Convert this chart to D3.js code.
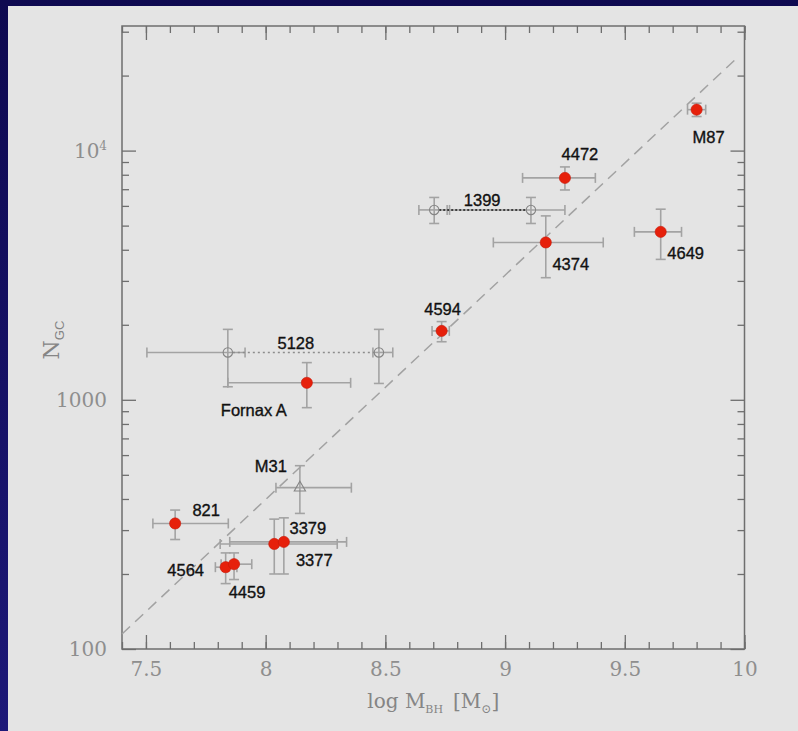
<!DOCTYPE html>
<html>
<head>
<meta charset="utf-8">
<script src="https://cdn.jsdelivr.net/npm/d3@7"></script>
<style>
  html, body { margin: 0; padding: 0; background: #100a55; }
  svg { display: block; }
</style>
</head>
<body>
<svg id="chart" width="798" height="731"></svg>
<script>
// Globular cluster counts versus central black hole mass.
// Filled points: measured galaxies. Open points: alternative estimates / M31.

const galaxyNames = ["M87", "4472", "4374", "4649", "4594", "Fornax A", "821", "3377", "3379", "4564", "4459"];
const galaxyLogM  = [9.80, 9.25, 9.17, 9.65, 8.735, 8.172, 7.622, 8.036, 8.076, 7.833, 7.868];
const galaxyLogMLo = [9.762, 9.073, 8.951, 9.540, 8.695, 7.842, 7.529, 7.810, 7.850, 7.790, 7.814];
const galaxyLogMHi = [9.838, 9.377, 9.410, 9.737, 8.767, 8.355, 7.844, 8.299, 8.338, 7.880, 7.942];
const galaxyNgc   = [14600, 7770, 4280, 4720, 1890, 1170, 319, 264, 269, 213, 219];
const galaxyNgcLo = [13700, 6950, 3090, 3660, 1710, 930, 275, 200, 200, 183, 190];
const galaxyNgcHi = [15500, 8600, 5470, 5820, 2060, 1410, 361, 332, 336, 243, 243];

// Paired alternative estimates joined by a dotted line
const pairNames  = ["5128", "5128", "1399", "1399"];
const pairGroup  = ["5128", "5128", "1399", "1399"];
const pairLogM   = [7.842, 8.473, 8.704, 9.108];
const pairLogMLo = [7.504, 8.448, 8.640, 8.758];
const pairLogMHi = [7.914, 8.531, 8.768, 9.250];
const pairNgc    = [1549, 1549, 5780, 5780];
const pairNgcLo  = [1128, 1163, 5100, 5100];
const pairNgcHi  = [1917, 1917, 6486, 6486];

// M31 (open triangle)
const m31LogM = 8.143, m31LogMLo = 8.043, m31LogMHi = 8.358;
const m31Ngc = 444, m31NgcLo = 350, m31NgcHi = 544;

// Fitted relation (dashed line): log N = a + b (log M - 7.4)
const fitLogM = [7.4, 9.97];
const fitA = 2.06, fitB = 0.90;

// Axis ticks
const xMajorTicks = [7.5, 8, 8.5, 9, 9.5, 10];
const xMinorTicks = d3.range(74, 101).map(d => d / 10);
const yMajorTicks = [100, 1000, 10000];
const yMinorTicks = [200, 300, 400, 500, 600, 700, 800, 900,
                     2000, 3000, 4000, 5000, 6000, 7000, 8000, 9000, 20000, 30000];

// ---------------------------------------------------------------
const svg = d3.select("#chart");
const W = 798, H = 731;

const defs = svg.append("defs");
const bg = defs.append("linearGradient").attr("id", "navy")
  .attr("x1", 0).attr("y1", 0).attr("x2", 0).attr("y2", 1);
bg.append("stop").attr("offset", "0%").attr("stop-color", "#0e0950");
bg.append("stop").attr("offset", "100%").attr("stop-color", "#1d1878");

svg.append("rect").attr("width", W).attr("height", H).attr("fill", "url(#navy)");
svg.append("rect").attr("x", 8).attr("y", 6).attr("width", W - 8).attr("height", H - 6)
  .attr("fill", "#e4e4e4");

const plotLeft = 122, plotRight = 744.5, plotTop = 26, plotBottom = 649;
const x = d3.scaleLinear().domain([7.4, 10]).range([plotLeft, plotRight]);
const y = d3.scaleLog().domain([100, Math.pow(10, 4.5)]).range([plotBottom, plotTop]);

const frameColor = "#6e6e6e";
const tickFont = "'DejaVu Serif', 'Liberation Serif', serif";

function styleAxis(g) {
  g.select(".domain").remove();
  g.selectAll(".tick line").attr("stroke", frameColor).attr("stroke-width", 1.3);
  g.selectAll(".tick text").attr("fill", "#8e8e8e")
    .attr("font-family", tickFont).attr("font-size", 20);
}

// Minor ticks
svg.append("g").attr("transform", `translate(0,${plotBottom})`)
  .call(d3.axisBottom(x).tickValues(xMinorTicks).tickSize(-7).tickFormat(""))
  .call(styleAxis);
svg.append("g").attr("transform", `translate(0,${plotTop})`)
  .call(d3.axisTop(x).tickValues(xMinorTicks).tickSize(-7).tickFormat(""))
  .call(styleAxis);
svg.append("g").attr("transform", `translate(${plotLeft},0)`)
  .call(d3.axisLeft(y).tickValues(yMinorTicks).tickSize(-7).tickFormat(""))
  .call(styleAxis);
svg.append("g").attr("transform", `translate(${plotRight},0)`)
  .call(d3.axisRight(y).tickValues(yMinorTicks).tickSize(-7).tickFormat(""))
  .call(styleAxis);

// Major ticks with labels
svg.append("g").attr("transform", `translate(0,${plotBottom})`)
  .call(d3.axisBottom(x).tickValues(xMajorTicks).tickSize(-14).tickPadding(13)
    .tickFormat(d => String(d)))
  .call(styleAxis);
svg.append("g").attr("transform", `translate(0,${plotTop})`)
  .call(d3.axisTop(x).tickValues(xMajorTicks).tickSize(-14).tickFormat(""))
  .call(styleAxis);
const yAxisG = svg.append("g").attr("transform", `translate(${plotLeft},0)`)
  .call(d3.axisLeft(y).tickValues(yMajorTicks).tickSize(-14).tickPadding(15)
    .tickFormat(d => d === 10000 ? "10" : String(d)))
  .call(styleAxis);
yAxisG.selectAll(".tick text").filter(d => d === 10000)
  .append("tspan").attr("font-size", 12).attr("dy", "-0.6em").text("4");
svg.append("g").attr("transform", `translate(${plotRight},0)`)
  .call(d3.axisRight(y).tickValues(yMajorTicks).tickSize(-14).tickFormat(""))
  .call(styleAxis);

// Frame
svg.append("rect").attr("x", plotLeft).attr("y", plotTop)
  .attr("width", plotRight - plotLeft).attr("height", plotBottom - plotTop)
  .attr("fill", "none").attr("stroke", frameColor).attr("stroke-width", 1.5);

// Axis titles
const xTitle = svg.append("text").attr("x", (plotLeft + plotRight) / 2).attr("y", 708)
  .attr("text-anchor", "middle").attr("fill", "#858585")
  .attr("font-family", tickFont).attr("font-size", 20);
xTitle.append("tspan").text("log M");
xTitle.append("tspan").attr("font-size", 11).attr("dy", 5).text("BH");
xTitle.append("tspan").attr("dy", -5).text("\u2002[M");
xTitle.append("tspan").attr("font-size", 12).attr("dy", 5).text("\u2299");
xTitle.append("tspan").attr("dy", -5).text("]");

const yTitle = svg.append("text").attr("transform", "translate(59,340) rotate(-90)")
  .attr("text-anchor", "middle").attr("fill", "#858585")
  .attr("font-family", tickFont).attr("font-size", 22);
yTitle.append("tspan").text("N");
yTitle.append("tspan").attr("font-family", "'Liberation Sans', Arial, sans-serif")
  .attr("font-size", 13).attr("dy", 5).text("GC");

// Dashed fit line
svg.append("line")
  .attr("x1", x(fitLogM[0])).attr("y1", y(Math.pow(10, fitA + fitB * (fitLogM[0] - 7.4))))
  .attr("x2", x(fitLogM[1])).attr("y2", y(Math.pow(10, fitA + fitB * (fitLogM[1] - 7.4))))
  .attr("stroke", "#a2a2a2").attr("stroke-width", 1.5).attr("stroke-dasharray", "11,7");

// Error bars
const errColor = "#a3a3a3";
const cap = 5;
function errorBars(g, mx, mLo, mHi, n, nLo, nHi) {
  const px = x(mx), py = y(n);
  const segs = [
    [x(mLo), py, x(mHi), py],
    [x(mLo), py - cap, x(mLo), py + cap],
    [x(mHi), py - cap, x(mHi), py + cap],
    [px, y(nLo), px, y(nHi)],
    [px - cap, y(nLo), px + cap, y(nLo)],
    [px - cap, y(nHi), px + cap, y(nHi)]
  ];
  segs.forEach(s => g.append("line")
    .attr("x1", s[0]).attr("y1", s[1]).attr("x2", s[2]).attr("y2", s[3])
    .attr("stroke", errColor).attr("stroke-width", 1.6));
}

const errG = svg.append("g");
galaxyNames.forEach((_, i) => errorBars(errG, galaxyLogM[i], galaxyLogMLo[i], galaxyLogMHi[i],
  galaxyNgc[i], galaxyNgcLo[i], galaxyNgcHi[i]));
pairNames.forEach((_, i) => errorBars(errG, pairLogM[i], pairLogMLo[i], pairLogMHi[i],
  pairNgc[i], pairNgcLo[i], pairNgcHi[i]));
errorBars(errG, m31LogM, m31LogMLo, m31LogMHi, m31Ngc, m31NgcLo, m31NgcHi);

// Dotted connectors between paired estimates
const pairStyle = { "5128": ["#8c8c8c", "2,3"], "1399": ["#1a1a1a", "2,2"] };
["5128", "1399"].forEach(gname => {
  const idx = pairGroup.map((g, i) => g === gname ? i : -1).filter(i => i >= 0);
  const a = idx[0], b = idx[1];
  svg.append("line")
    .attr("x1", x(pairLogM[a]) + 5).attr("y1", y(pairNgc[a]))
    .attr("x2", x(pairLogM[b]) - 5).attr("y2", y(pairNgc[b]))
    .attr("stroke", pairStyle[gname][0]).attr("stroke-width", 1.6)
    .attr("stroke-dasharray", pairStyle[gname][1]);
});

// Open circles
svg.append("g").selectAll("circle").data(pairNames.map((_, i) => i)).join("circle")
  .attr("cx", i => x(pairLogM[i])).attr("cy", i => y(pairNgc[i])).attr("r", 4.7)
  .attr("fill", "none").attr("stroke", "#858585").attr("stroke-width", 1.1);

// M31 open triangle
svg.append("path")
  .attr("transform", `translate(${x(m31LogM)},${y(m31Ngc)})`)
  .attr("d", d3.symbol().type(d3.symbolTriangle).size(55)())
  .attr("fill", "none").attr("stroke", "#858585").attr("stroke-width", 1.1);

// Filled red points
svg.append("g").selectAll("circle").data(galaxyNames.map((_, i) => i)).join("circle")
  .attr("cx", i => x(galaxyLogM[i])).attr("cy", i => y(galaxyNgc[i])).attr("r", 5.6)
  .attr("fill", "#e6200b").attr("stroke", "#c8190a").attr("stroke-width", 0.6);

// Name labels, offset from their points (pixels)
const labelFont = "'Liberation Sans', Arial, Helvetica, sans-serif";
const labelOffsets = {
  "M87": [12, 33], "4472": [15, -18], "4374": [25, 28], "4649": [25, 27],
  "4594": [1, -16], "Fornax A": [-53, 33], "821": [31, -7], "3377": [40, 22],
  "3379": [24, -8], "4564": [-40, 9], "4459": [13, 34]
};
const labelG = svg.append("g").attr("font-family", labelFont).attr("font-size", 16.5)
  .attr("fill", "#111").attr("stroke", "#111").attr("stroke-width", 0.35)
  .attr("text-anchor", "middle");
galaxyNames.forEach((name, i) => {
  const o = labelOffsets[name];
  labelG.append("text").attr("x", x(galaxyLogM[i]) + o[0]).attr("y", y(galaxyNgc[i]) + o[1]).text(name);
});
labelG.append("text").attr("x", x(pairLogM[0]) + 68).attr("y", y(pairNgc[0]) - 3).text("5128");
labelG.append("text").attr("x", x(pairLogM[2]) + 48).attr("y", y(pairNgc[2]) - 4).text("1399");
labelG.append("text").attr("x", x(m31LogM) - 29).attr("y", y(m31Ngc) - 16).text("M31");
</script>
</body>
</html>
